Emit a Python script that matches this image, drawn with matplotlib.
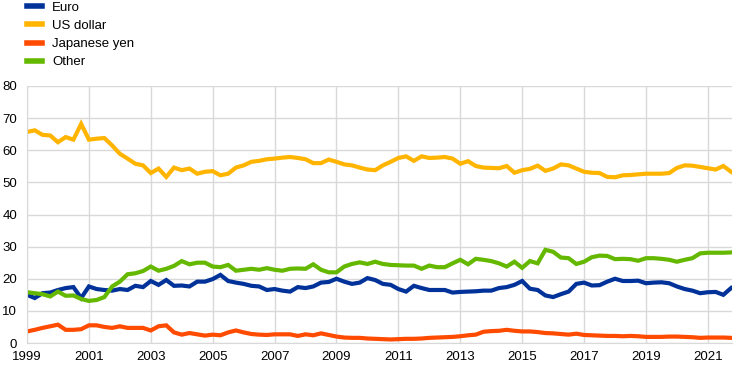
import numpy as np
import matplotlib
matplotlib.use("Agg")
import matplotlib.pyplot as plt
from matplotlib.lines import Line2D

# quarterly shares (%), 1999 Q1 - 2021 Q4
euro = [15.0, 14.0, 15.5, 15.7, 16.5, 17.1, 17.4, 14.0, 17.6, 16.8, 16.5, 16.3,
        16.8, 16.5, 17.8, 17.4, 19.3, 18.1, 19.6, 17.8, 17.9, 17.6, 19.1, 19.1,
        19.9, 21.2, 19.3, 18.8, 18.4, 17.8, 17.6, 16.5, 16.8, 16.3, 16.0, 17.4,
        17.1, 17.6, 18.8, 19.0, 20.0, 19.1, 18.4, 18.8, 20.2, 19.6, 18.4, 18.1,
        16.8, 16.0, 17.8, 17.1, 16.5, 16.5, 16.5, 15.7, 15.9, 16.0, 16.1, 16.3,
        16.3, 17.1, 17.4, 18.1, 19.3, 16.9, 16.5, 14.8, 14.3, 15.2, 16.0, 18.4,
        18.8, 17.9, 18.0, 19.1, 20.0, 19.3, 19.3, 19.4, 18.6, 18.8, 18.9, 18.6,
        17.6, 16.8, 16.3, 15.5, 15.8, 15.9, 15.0, 17.1]
usd = [65.7, 66.2, 64.8, 64.6, 62.5, 64.1, 63.3, 68.2, 63.3, 63.6, 63.8, 61.5,
       58.9, 57.4, 55.8, 55.3, 52.9, 54.3, 51.7, 54.6, 53.8, 54.3, 52.7, 53.3,
       53.5, 52.2, 52.7, 54.6, 55.3, 56.4, 56.7, 57.2, 57.4, 57.7, 57.9, 57.6,
       57.2, 56.0, 56.0, 57.1, 56.4, 55.6, 55.3, 54.6, 54.0, 53.8, 55.3, 56.4,
       57.6, 58.1, 56.7, 58.1, 57.6, 57.7, 57.9, 57.4, 55.8, 56.6, 55.1, 54.6,
       54.5, 54.4, 55.1, 53.0, 53.8, 54.2, 55.2, 53.6, 54.3, 55.6, 55.3, 54.3,
       53.3, 53.0, 52.9, 51.7, 51.6, 52.2, 52.3, 52.5, 52.7, 52.7, 52.7, 52.9,
       54.5, 55.3, 55.2, 54.8, 54.4, 54.0, 55.1, 53.3]
yen = [3.6, 4.1, 4.7, 5.2, 5.7, 4.1, 4.1, 4.3, 5.5, 5.5, 5.0, 4.7,
       5.2, 4.7, 4.7, 4.7, 3.9, 5.2, 5.5, 3.3, 2.6, 3.1, 2.7, 2.3,
       2.6, 2.4, 3.3, 3.9, 3.3, 2.8, 2.6, 2.5, 2.7, 2.7, 2.7, 2.2,
       2.7, 2.4, 3.0, 2.5, 2.0, 1.7, 1.6, 1.6, 1.4, 1.3, 1.2, 1.1,
       1.2, 1.3, 1.3, 1.4, 1.6, 1.7, 1.8, 1.9, 2.1, 2.4, 2.6, 3.5,
       3.7, 3.8, 4.1, 3.8, 3.6, 3.6, 3.4, 3.1, 3.0, 2.8, 2.6, 2.9,
       2.5, 2.4, 2.3, 2.2, 2.2, 2.1, 2.2, 2.1, 1.9, 1.9, 1.9, 2.0,
       2.0, 1.9, 1.8, 1.6, 1.7, 1.7, 1.7, 1.6]
other = [15.8, 15.5, 15.2, 14.5, 16.0, 14.7, 14.8, 13.7, 13.1, 13.4, 14.3, 17.6,
         19.1, 21.4, 21.7, 22.4, 23.8, 22.5, 23.1, 24.0, 25.5, 24.5, 25.0, 25.0,
         23.8, 23.6, 24.3, 22.5, 22.8, 23.1, 22.8, 23.3, 22.8, 22.5, 23.1, 23.2,
         23.1, 24.5, 22.8, 22.0, 22.0, 23.8, 24.6, 25.1, 24.6, 25.3, 24.6, 24.3,
         24.2, 24.1, 24.1, 23.1, 24.1, 23.6, 23.6, 24.8, 25.9, 24.5, 26.2, 25.9,
         25.5, 24.8, 23.8, 25.3, 23.4, 25.5, 24.8, 29.0, 28.4, 26.6, 26.4, 24.6,
         25.3, 26.7, 27.2, 27.1, 26.1, 26.2, 26.1, 25.6, 26.4, 26.4, 26.2, 25.9,
         25.3, 25.9, 26.4, 27.9, 28.1, 28.1, 28.1, 28.2]

labels = ["Euro", "US dollar", "Japanese yen", "Other"]
colors = ["#003299", "#FFB400", "#FF4B00", "#65B800"]
years = list(range(1999, 2022, 2))

t = 1999 + np.arange(len(euro)) / 4.0

plt.rcParams['font.family'] = ['Liberation Sans', 'DejaVu Sans']
fig = plt.figure(figsize=(7.44, 3.71), dpi=100)
ax = fig.add_axes([27 / 744, 1 - 343 / 371, 705 / 744, 257 / 371])

for series, name, col in zip([euro, usd, yen, other], labels, colors):
    ax.plot(t, series, color=col, lw=3, label=name, solid_joinstyle='miter')

ax.set_xlim(1999, 2021.78)
ax.set_ylim(0, 80)
ax.set_xticks(years)
ax.set_xticklabels([str(y) for y in years])
ax.set_yticks(range(0, 81, 10))
ax.grid(True, color="#d9d9d9", lw=1)
ax.set_axisbelow(True)
for side in ["top", "right"]:
    ax.spines[side].set_visible(False)
for side in ["left", "bottom"]:
    ax.spines[side].set_color("#d9d9d9")
ax.tick_params(length=0, labelsize=9.5, colors="black")
ax.tick_params(axis="y", pad=7)
ax.tick_params(axis="x", pad=6)

handles = [Line2D([], [], color=c, lw=4) for c in colors]
fig.legend(handles, labels, loc="upper left", bbox_to_anchor=(22 / 744, 1.01),
           frameon=False, fontsize=9.5, handlelength=1.1, handletextpad=0.8,
           labelspacing=0.45, borderaxespad=0)

fig.savefig("out.png", dpi=100)
